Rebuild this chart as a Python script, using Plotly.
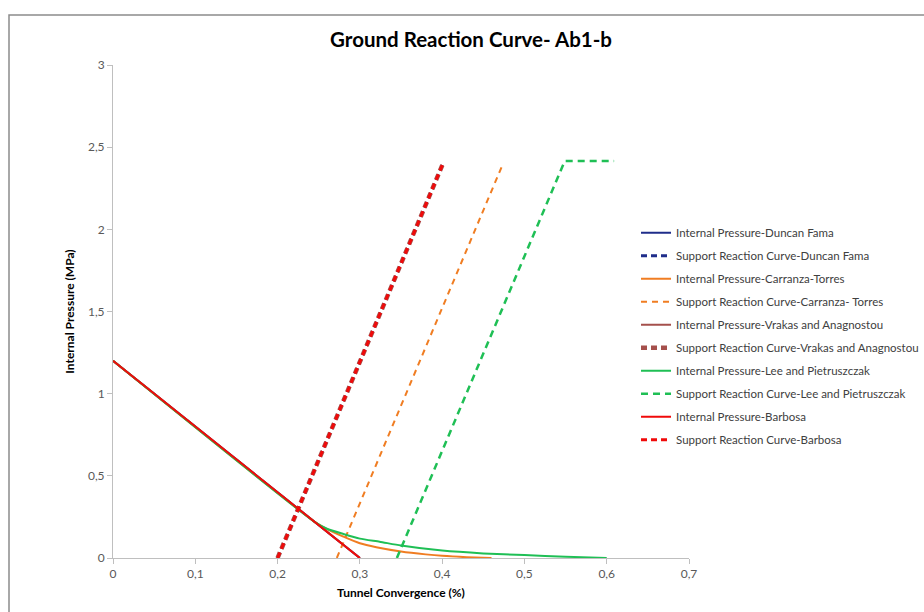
import plotly.graph_objects as go

# Ground reaction curves (internal pressure vs. convergence)
x_linear = [0.0, 0.30]
p_linear = [1.20, 0.0]

x_carranza = [0.0, 0.245, 0.26, 0.28, 0.30, 0.32, 0.35, 0.38, 0.40, 0.43, 0.46]
p_carranza = [1.20, 0.22, 0.176, 0.130, 0.090, 0.066, 0.040, 0.022, 0.013, 0.005, 0.0]

x_lee = [0.0, 0.245, 0.26, 0.28, 0.30, 0.324, 0.35, 0.40, 0.45, 0.50, 0.55, 0.60]
p_lee = [1.20, 0.22, 0.178, 0.146, 0.118, 0.099, 0.076, 0.045, 0.028, 0.018, 0.008, 0.0]

# Support reaction curves
x_src_barbosa = [0.20, 0.401]
p_src_barbosa = [0.0, 2.40]

x_src_carranza = [0.272, 0.474]
p_src_carranza = [0.0, 2.40]

x_src_lee = [0.345, 0.549, 0.609]
p_src_lee = [0.0, 2.416, 2.416]

x_ticks = [0, 0.1, 0.2, 0.3, 0.4, 0.5, 0.6, 0.7]
x_tick_text = ["0", "0,1", "0,2", "0,3", "0,4", "0,5", "0,6", "0,7"]
y_ticks = [0, 0.5, 1, 1.5, 2, 2.5, 3]
y_tick_text = ["0", "0,5", "1", "1,5", "2", "2,5", "3"]

BLUE = "#1f2d8a"
ORANGE = "#f07d22"
BROWN = "#a5504c"
GREEN = "#1fbf55"
RED = "#f00a0a"

FONT = "Lato, sans-serif"

# name, x, y, colour, dash, width, smoothed
series = [
    ("Internal Pressure-Duncan Fama", x_linear, p_linear, BLUE, "solid", 2, False),
    ("Support Reaction Curve-Duncan Fama", x_src_barbosa, p_src_barbosa, BLUE, "6px,4px", 3, False),
    ("Internal Pressure-Carranza-Torres", x_carranza, p_carranza, ORANGE, "solid", 2, True),
    ("Support Reaction Curve-Carranza- Torres", x_src_carranza, p_src_carranza, ORANGE, "6px,5px", 2, False),
    ("Internal Pressure-Vrakas and Anagnostou", x_linear, p_linear, BROWN, "solid", 2, False),
    ("Support Reaction Curve-Vrakas and Anagnostou", x_src_barbosa, p_src_barbosa, BROWN, "6px,4px", 4.5, False),
    ("Internal Pressure-Lee and Pietruszczak", x_lee, p_lee, GREEN, "solid", 2, True),
    ("Support Reaction Curve-Lee and Pietruszczak", x_src_lee, p_src_lee, GREEN, "7px,5px", 2.5, False),
    ("Internal Pressure-Barbosa", x_linear, p_linear, RED, "solid", 2, False),
    ("Support Reaction Curve-Barbosa", x_src_barbosa, p_src_barbosa, RED, "6px,4px", 3, False),
]

fig = go.Figure()
for i, (name, xs, ys, color, dash, width, smooth) in enumerate(series):
    line = dict(color=color, dash=dash, width=width)
    if smooth:
        line.update(shape="spline", smoothing=0.6)
    fig.add_trace(go.Scatter(x=xs, y=ys, mode="lines", name=name,
                             legendgroup=f"g{i}", line=line))

axis_common = dict(
    showgrid=False, zeroline=False, showline=True, linecolor="#bfbfbf", linewidth=1,
    ticks="outside", ticklen=5, tickcolor="#bfbfbf",
    tickfont=dict(family=FONT, size=12, color="#595959"),
)

fig.update_layout(
    width=924, height=612,
    margin=dict(l=113, r=235, t=65, b=54, autoexpand=False),
    paper_bgcolor="white", plot_bgcolor="white",
    title=dict(text="<b>Ground Reaction Curve- Ab1-b</b>", x=471 / 924, xanchor="center",
               y=1 - 40 / 612, yanchor="middle", yref="container",
               font=dict(family=FONT, size=20.5, color="#000000")),
    xaxis=dict(range=[0, 0.7], tickvals=x_ticks, ticktext=x_tick_text,
               title=dict(text="<b>Tunnel Convergence (%)</b>", standoff=8,
                          font=dict(family=FONT, size=12, color="#000000")),
               **axis_common),
    yaxis=dict(range=[0, 3], tickvals=y_ticks, ticktext=y_tick_text,
               title=dict(text="<b>Internal Pressure (MPa)</b>", standoff=10,
                          font=dict(family=FONT, size=12, color="#000000")),
               **axis_common),
    legend=dict(x=0.908, xanchor="left", y=0.689, yanchor="top",
                tracegroupgap=4, traceorder="grouped",
                font=dict(family=FONT, size=11.5, color="#404040"),
                bgcolor="rgba(0,0,0,0)"),
    showlegend=True,
)

# chart-area frame
fig.add_shape(type="rect", xref="paper", yref="paper",
              x0=(9 - 113) / 576, x1=(930 - 113) / 576,
              y0=(558 - 640) / 493, y1=(558 - 15) / 493,
              line=dict(color="#8c8c8c", width=1.5), layer="below")

fig.write_html("out.html")
